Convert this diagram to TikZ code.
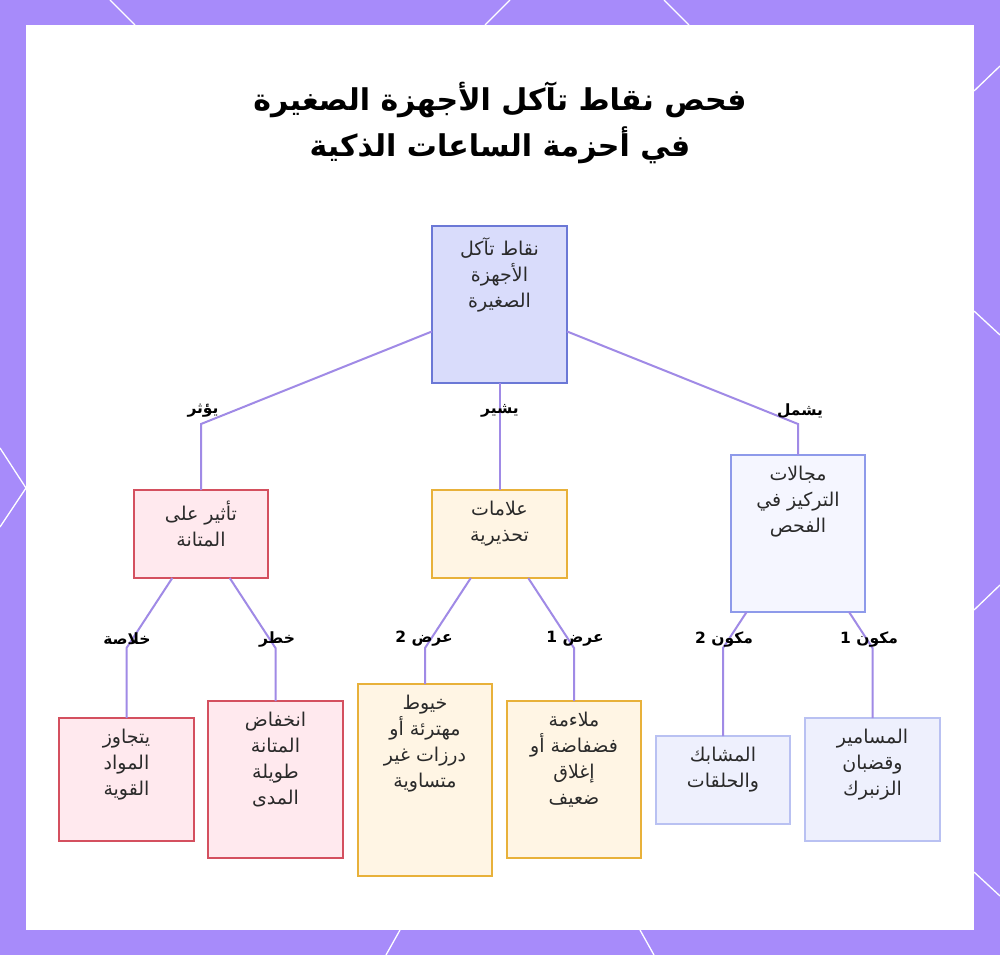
\documentclass[tikz,border=0pt]{standalone}
\usepackage{fontspec}
\newfontfamily\arabicfont[Script=Arabic]{DejaVu Sans}
\TeXXeTstate=1
\newcommand\arl[1]{\beginR #1\endR}
\definecolor{framec}{HTML}{A78BFA}
\definecolor{connc}{HTML}{A08AE6}
\definecolor{rootfill}{HTML}{D9DCFB}
\definecolor{rootdraw}{HTML}{6B78D6}
\definecolor{bluefill}{HTML}{F5F6FF}
\definecolor{bluedraw}{HTML}{8E9AEA}
\definecolor{leaffill}{HTML}{EEF0FD}
\definecolor{leafdraw}{HTML}{B9C1F2}
\definecolor{pinkfill}{HTML}{FFE9EE}
\definecolor{pinkdraw}{HTML}{D4505F}
\definecolor{orfill}{HTML}{FFF5E4}
\definecolor{ordraw}{HTML}{E8B13A}
\definecolor{txtc}{HTML}{2A2A2A}
\begin{document}
\begin{tikzpicture}[x=1pt,y=-1pt,
  box/.style={rectangle, inner sep=0pt, outer sep=0pt, line width=1.8pt, minimum width=134pt},
  rootbox/.style={box, fill=rootfill, draw=rootdraw},
  bluebox/.style={box, fill=bluefill, draw=bluedraw},
  leafbox/.style={box, fill=leaffill, draw=leafdraw},
  pinkbox/.style={box, fill=pinkfill, draw=pinkdraw},
  orbox/.style={box, fill=orfill, draw=ordraw},
  txt/.style={font=\arabicfont\fontsize{19}{26}\selectfont, align=center, inner sep=0pt, anchor=north, text=txtc},
  lbl/.style={font=\arabicfont\bfseries\fontsize{15.5}{18}\selectfont, inner sep=0pt, text=black},
  title/.style={font=\arabicfont\bfseries\fontsize{30}{46}\selectfont, align=center, inner sep=0pt, text=black},
  connline/.style={draw=connc, line width=2pt},
  deco/.style={draw=white, line width=1.3pt}]
\useasboundingbox (0,0) rectangle (1000,955);
\fill[framec] (0,0) rectangle (1000,955);
\fill[white] (26,25) rectangle (974,930);
% decorative lines on the frame
\draw[deco] (110,0) -- (135,25);
\draw[deco] (510,0) -- (485,25);
\draw[deco] (664,0) -- (689,25);
\draw[deco] (0,448) -- (26,488) -- (0,527);
\draw[deco] (974,91) -- (1000,66);
\draw[deco] (974,311) -- (1000,335);
\draw[deco] (974,610) -- (1000,585);
\draw[deco] (974,872) -- (1000,896);
\draw[deco] (400,930) -- (386,955);
\draw[deco] (640,930) -- (654,955);

% title
\node[title] (title) at (500,123) {\arl{فحص نقاط تآكل الأجهزة الصغيرة}\\\arl{في أحزمة الساعات الذكية}};

% boxes
\node[rootbox, minimum width=135pt, minimum height=157pt] (root) at (499.5,304.5) {};
\node[pinkbox, minimum height=88pt] (dur) at (201,534) {};
\node[orbox, minimum width=135pt, minimum height=88pt] (warn) at (499.5,534) {};
\node[bluebox, minimum height=157pt] (focus) at (798,533.5) {};
\node[pinkbox, minimum width=135pt, minimum height=123pt] (l1) at (126.5,779.5) {};
\node[pinkbox, minimum width=135pt, minimum height=157pt] (l2) at (275.5,779.5) {};
\node[orbox, minimum height=192pt] (l3) at (425,780) {};
\node[orbox, minimum height=157pt] (l4) at (574,779.5) {};
\node[leafbox, minimum height=88pt] (l5) at (723,780) {};
\node[leafbox, minimum width=135pt, minimum height=123pt] (l6) at (872.5,779.5) {};

% bends
\coordinate (bdur) at (201,424);
\coordinate (bfocus) at (798,424);
\coordinate (b1) at (126.5,648);
\coordinate (b2) at (275.5,648);
\coordinate (b3) at (425,648);
\coordinate (b4) at (574,648);
\coordinate (b5) at (723,648);
\coordinate (b6) at (872.5,648);

% connectors
\draw[connline] (root) -- (bdur) -- (dur);
\draw[connline] (root.south) -- (warn.north);
\draw[connline] (root) -- (bfocus) -- (focus);
\draw[connline] (dur) -- (b1) -- (l1);
\draw[connline] (dur) -- (b2) -- (l2);
\draw[connline] (warn) -- (b3) -- (l3);
\draw[connline] (warn) -- (b4) -- (l4);
\draw[connline] (focus) -- (b5) -- (l5);
\draw[connline] (focus) -- (b6) -- (l6);

% edge labels
\node[lbl] (e1) at (203,411) {\arl{يؤثر}};
\node[lbl] (e2) at (500,411) {\arl{يشير}};
\node[lbl] (e3) at (800,411) {\arl{يشمل}};
\node[lbl] (e4) at (127,639) {\arl{خلاصة}};
\node[lbl] (e5) at (277,639) {\arl{خطر}};
\node[lbl] (e6) at (424,639) {\arl{عرض 2}};
\node[lbl] (e7) at (575,639) {\arl{عرض 1}};
\node[lbl] (e8) at (724,639) {\arl{مكون 2}};
\node[lbl] (e9) at (869,639) {\arl{مكون 1}};

% box texts
\node[txt] (rootT) at ([yshift=-11pt]root.north) {\arl{نقاط تآكل}\\\arl{الأجهزة}\\\arl{الصغيرة}};
\node[txt] (durT) at ([yshift=-11pt]dur.north) {\arl{تأثير على}\\\arl{المتانة}};
\node[txt] (warnT) at ([yshift=-11pt]warn.north) {\arl{علامات}\\\arl{تحذيرية}};
\node[txt] (focusT) at ([yshift=-11pt]focus.north) {\arl{مجالات}\\\arl{التركيز في}\\\arl{الفحص}};
\node[txt] (l1T) at ([yshift=-11pt]l1.north) {\arl{يتجاوز}\\\arl{المواد}\\\arl{القوية}};
\node[txt] (l2T) at ([yshift=-11pt]l2.north) {\arl{انخفاض}\\\arl{المتانة}\\\arl{طويلة}\\\arl{المدى}};
\node[txt] (l3T) at ([yshift=-11pt]l3.north) {\arl{خيوط}\\\arl{مهترئة أو}\\\arl{درزات غير}\\\arl{متساوية}};
\node[txt] (l4T) at ([yshift=-11pt]l4.north) {\arl{ملاءمة}\\\arl{فضفاضة أو}\\\arl{إغلاق}\\\arl{ضعيف}};
\node[txt] (l5T) at ([yshift=-11pt]l5.north) {\arl{المشابك}\\\arl{والحلقات}};
\node[txt] (l6T) at ([yshift=-11pt]l6.north) {\arl{المسامير}\\\arl{وقضبان}\\\arl{الزنبرك}};
\end{tikzpicture}
\end{document}
